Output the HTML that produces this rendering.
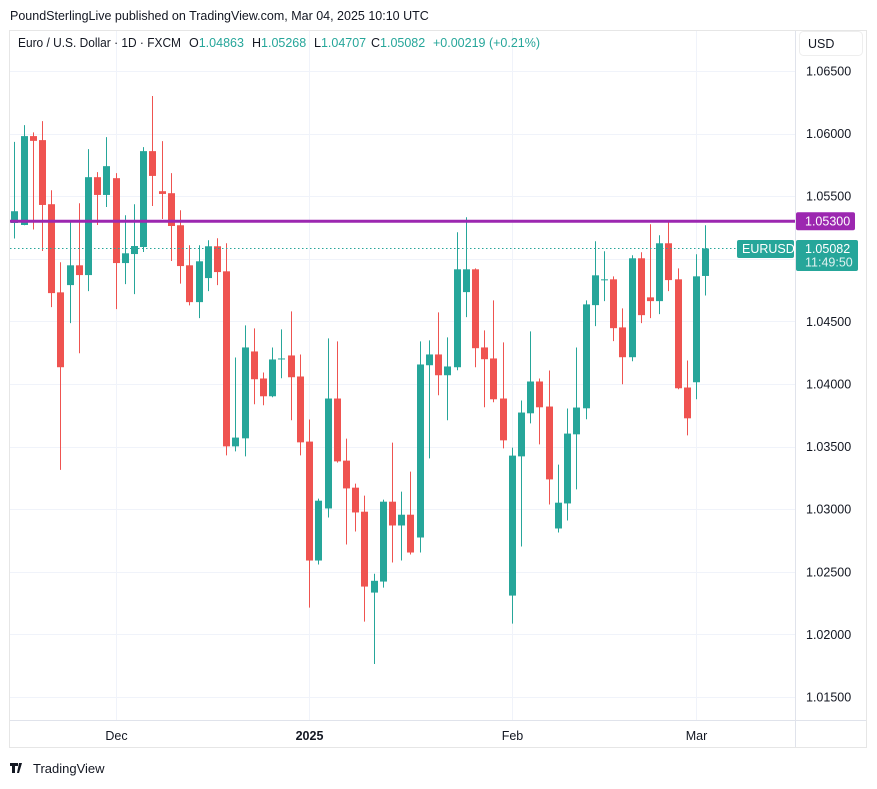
<!DOCTYPE html>
<html><head><meta charset="utf-8"><style>
body{margin:0;background:#fff;width:877px;height:784px;overflow:hidden;font-family:"Liberation Sans",sans-serif;}
svg text{font-family:"Liberation Sans",sans-serif;}
</style></head><body>
<svg id="chart" width="877" height="784" viewBox="0 0 877 784" xmlns="http://www.w3.org/2000/svg">
<text x="10" y="20" font-size="12.5" fill="#131722">PoundSterlingLive published on TradingView.com, Mar 04, 2025 10:10 UTC</text>
<rect x="9.5" y="30.5" width="857" height="717" fill="#fff" stroke="#e6e6e6"/>
<g id="grid"></g>
<line x1="795.5" y1="31" x2="795.5" y2="747" stroke="#e0e3eb"/>
<line x1="10" y1="720.5" x2="866" y2="720.5" stroke="#e0e3eb"/>
<g id="candles"></g>
<line id="resline" x1="10" x2="795" stroke="#9c27b0" stroke-width="3"/>
<line id="lastline" x1="10" x2="737" stroke="#26a69a" stroke-width="1" stroke-dasharray="1.5,2.5"/>
<g id="yaxis"></g>
<g id="xaxis"></g>
<g font-size="12.5">
<text x="18" y="47" fill="#131722" textLength="163" lengthAdjust="spacingAndGlyphs">Euro / U.S. Dollar · 1D · FXCM</text>
<text x="189" y="47" fill="#131722">O<tspan fill="#26a69a">1.04863</tspan></text>
<text x="252" y="47" fill="#131722">H<tspan fill="#26a69a">1.05268</tspan></text>
<text x="314" y="47" fill="#131722">L<tspan fill="#26a69a">1.04707</tspan></text>
<text x="371" y="47" fill="#131722">C<tspan fill="#26a69a">1.05082</tspan></text>
<text x="433" y="47" fill="#26a69a">+0.00219 (+0.21%)</text>
</g>
<rect x="799.5" y="31.5" width="63" height="24" rx="4" fill="#fff" stroke="#eee"/>
<text x="808" y="48" font-size="12.5" fill="#131722">USD</text>
<g id="labels"></g>
<g>
<path d="M10 763h8v3h-3v7h-3v-7h-2z M19 763h3l-3 10h-2z" fill="#131722"/>
<text x="33" y="773" font-size="13" fill="#131722">TradingView</text>
</g>
</svg>
<script>
const opens=[1.05286,1.0527,1.0598,1.05948,1.05436,1.04732,1.0479,1.04948,1.0487,1.05652,1.0551,1.05644,1.04966,1.05038,1.05094,1.0586,1.0554,1.05524,1.05268,1.04948,1.04654,1.04846,1.051,1.049,1.03502,1.03566,1.0426,1.04044,1.03902,1.04198,1.04228,1.0406,1.0354,1.0259,1.03006,1.03884,1.03388,1.03172,1.0298,1.02334,1.02422,1.0306,1.0287,1.02956,1.02774,1.0415,1.04236,1.0407,1.04134,1.04734,1.04916,1.04292,1.04204,1.03884,1.0231,1.03422,1.03766,1.0402,1.0382,1.02846,1.03046,1.03598,1.03806,1.0463,1.0483,1.04836,1.04452,1.04214,1.05004,1.04692,1.04662,1.05124,1.04836,1.03972,1.04014,1.04863];
const highs=[1.05934,1.06068,1.0601,1.061,1.05548,1.04972,1.053,1.05444,1.05876,1.05692,1.05972,1.05684,1.05348,1.05436,1.05892,1.063,1.0594,1.05684,1.05388,1.05108,1.05108,1.05148,1.05164,1.05124,1.04212,1.04468,1.04444,1.04092,1.04292,1.04436,1.0458,1.04236,1.03716,1.03084,1.04364,1.0434,1.03564,1.03204,1.03108,1.02484,1.03076,1.03532,1.0314,1.033,1.0434,1.04348,1.04572,1.04372,1.05212,1.05332,1.04924,1.04428,1.04668,1.04332,1.03492,1.03868,1.0442,1.04044,1.04108,1.03356,1.03804,1.04292,1.04668,1.0514,1.0506,1.0486,1.04604,1.05028,1.05052,1.05276,1.05188,1.05292,1.04924,1.04188,1.05036,1.05268];
const lows=[1.05162,1.05268,1.05234,1.05062,1.04614,1.03314,1.04486,1.04246,1.04742,1.0527,1.05414,1.04598,1.04798,1.04718,1.05054,1.05422,1.05318,1.04982,1.04802,1.04628,1.04526,1.04742,1.0479,1.0343,1.03462,1.03422,1.03838,1.0383,1.03894,1.04046,1.0371,1.0343,1.02214,1.02558,1.02934,1.03372,1.02718,1.02822,1.02102,1.01764,1.02374,1.02574,1.0259,1.02638,1.02654,1.03406,1.0391,1.0371,1.0411,1.04534,1.04134,1.03814,1.03854,1.03486,1.02086,1.02702,1.03686,1.03518,1.03038,1.02814,1.0291,1.03158,1.03718,1.04462,1.04662,1.04342,1.03998,1.04182,1.04486,1.04526,1.04558,1.04742,1.03958,1.0359,1.03878,1.04707];
const closes=[1.0538,1.0598,1.05942,1.0543,1.04726,1.04134,1.04948,1.0487,1.05652,1.0551,1.0574,1.04966,1.05044,1.05102,1.0586,1.05662,1.05518,1.05262,1.04942,1.04654,1.0498,1.051,1.04894,1.03502,1.03572,1.04292,1.04038,1.03902,1.04196,1.04204,1.04054,1.03534,1.0259,1.03068,1.03884,1.03382,1.03166,1.02974,1.02382,1.02428,1.0306,1.0287,1.02956,1.02654,1.04156,1.04236,1.0407,1.0414,1.04916,1.04916,1.04286,1.04198,1.03878,1.0355,1.03428,1.03772,1.0402,1.03814,1.03238,1.03052,1.03604,1.03812,1.04636,1.04868,1.04836,1.04446,1.04214,1.05004,1.0455,1.04662,1.05124,1.0483,1.03966,1.03726,1.0486,1.05082];
const priceTicks=[1.065,1.06,1.055,1.05,1.045,1.04,1.035,1.03,1.025,1.02,1.015];
const priceTickLabels=["1.06500","1.06000","1.05500","","1.04500","1.04000","1.03500","1.03000","1.02500","1.02000","1.01500"];
const timeLabels=["Dec","2025","Feb","Mar"];
const timeLabelIndex=[11,32,54,74];
const resistance=1.053;
const NS="http://www.w3.org/2000/svg";
function y(p){return 71+(1.065-p)*12520;}
function x(i){return 14.3+i*9.213;}
function mk(t,a,parent){const e=document.createElementNS(NS,t);for(const k in a)e.setAttribute(k,a[k]);parent.appendChild(e);return e;}
const grid=document.getElementById('grid'),yax=document.getElementById('yaxis'),xax=document.getElementById('xaxis'),cg=document.getElementById('candles'),lab=document.getElementById('labels');
priceTicks.forEach((p,i)=>{
 const l=mk('line',{x1:10,x2:795,y1:Math.round(y(p))+0.5,y2:Math.round(y(p))+0.5,stroke:'#f0f3fa'},grid);
 
 
 if(priceTickLabels[i]){const t=mk('text',{x:806,y:y(p)+4.5,'font-size':12.5,fill:'#131722'},yax);t.textContent=priceTickLabels[i];
 
 }
});
timeLabels.forEach((s,i)=>{
 const xx=Math.round(x(timeLabelIndex[i]))+0.5;
 const l=mk('line',{x1:xx,x2:xx,y1:31,y2:720,stroke:'#f0f3fa'},grid);
 
 
 const t=mk('text',{x:xx,y:740,'font-size':12.5,'text-anchor':'middle',fill:'#131722','font-weight':s==='2025'?'bold':'normal'},xax);t.textContent=s;
 
 
});
opens.forEach((o,i)=>{
 const c=closes[i],up=c>=o,col=up?'#26a69a':'#ef5350',cx=Math.round(x(i));
 const g=mk('g',{},cg);
 
 
 mk('line',{x1:cx+0.5,x2:cx+0.5,y1:y(highs[i]),y2:y(lows[i]),stroke:col,'stroke-width':1},g);
 const top=y(Math.max(o,c)),bh=Math.max(1,y(Math.min(o,c))-top);
 mk('rect',{x:cx-3,y:top,width:7,height:bh,fill:col},g);
});
const ry=y(resistance);
document.getElementById('resline').setAttribute('y1',ry);document.getElementById('resline').setAttribute('y2',ry);
const last=closes[closes.length-1],ly=y(last);
document.getElementById('lastline').setAttribute('y1',ly);document.getElementById('lastline').setAttribute('y2',ly);
const rb=mk('rect',{x:796,y:ry-9,width:59,height:18,rx:2,fill:'#9c27b0'},lab);


const rt=mk('text',{x:805,y:ry+4.5,'font-size':12.5,fill:'#fff'},lab);rt.textContent=resistance.toFixed(5);
const eb=mk('rect',{x:737,y:ly-8.5,width:57,height:18,rx:2,fill:'#26a69a'},lab);


const et=mk('text',{x:742,y:ly+4.5,'font-size':12.5,fill:'#fff'},lab);et.textContent='EURUSD';
const pb=mk('rect',{x:796,y:ly-8.5,width:62,height:31,rx:2,fill:'#26a69a'},lab);


const pt=mk('text',{x:805,y:ly+4.5,'font-size':12.5,fill:'#fff'},lab);pt.textContent=last.toFixed(5);
const tt=mk('text',{x:805,y:ly+18,'font-size':12.5,fill:'#e0f2f1'},lab);tt.textContent='11:49:50';
</script>
</body></html>
